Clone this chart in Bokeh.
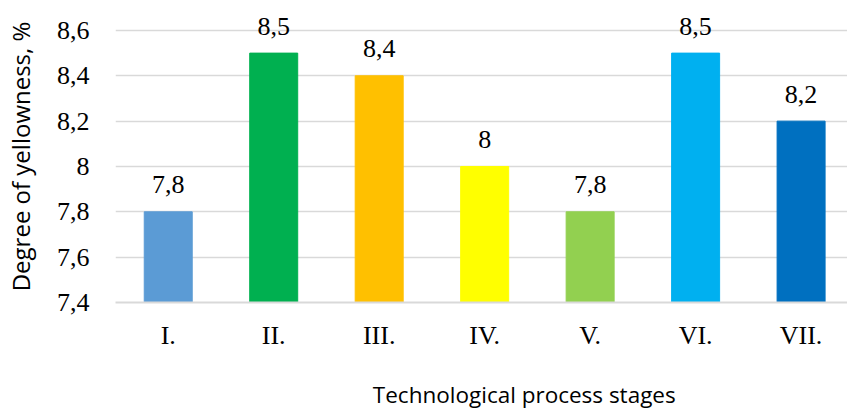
from bokeh.plotting import figure
from bokeh.layouts import column
from bokeh.models import ColumnDataSource, FixedTicker, CustomJSTickFormatter, Range1d
from bokeh.core.properties import value
from bokeh.embed import file_html
from bokeh.resources import INLINE

stages = ["I.", "II.", "III.", "IV.", "V.", "VI.", "VII."]
yellowness = [7.8, 8.5, 8.4, 8.0, 7.8, 8.5, 8.2]
bar_colors = ["#5B9BD5", "#00B050", "#FFC000", "#FFFF00", "#92D050", "#00B0F0", "#0070C0"]
y_ticks = [7.4, 7.6, 7.8, 8.0, 8.2, 8.4, 8.6]
x_title = "Technological process stages"
y_title = "Degree of yellowness, %"

def fmt(v):
    s = ("%.1f" % v).rstrip("0").rstrip(".")
    return s.replace(".", ",")

xs = list(range(len(stages)))
src = ColumnDataSource(dict(x=xs, top=yellowness, color=bar_colors,
                            label=[fmt(v) for v in yellowness]))

p = figure(width=847, height=375, output_backend="svg", toolbar_location=None,
           x_range=Range1d(-0.5, 6.44), y_range=Range1d(7.4, 8.688),
           min_border_left=115, min_border_right=0, min_border_top=10, min_border_bottom=73)
p.outline_line_color = None
p.background_fill_color = "white"

p.vbar(x="x", top="top", bottom=7.4, width=0.455, color="color", source=src)
p.text(x="x", y="top", text="label", source=src, text_align="center",
       text_baseline="alphabetic", y_offset=-27, text_font=value("Liberation Serif"),
       text_font_size="26px", text_color="#000000")

# axes
p.xaxis.ticker = FixedTicker(ticks=xs)
p.xaxis.major_label_overrides = {i: s for i, s in enumerate(stages)}
p.xaxis.major_tick_line_color = None
p.xaxis.minor_tick_line_color = None
p.xaxis.axis_line_color = "#D9D9D9"
p.xaxis.axis_line_width = 2
p.xaxis.major_label_text_font = "Liberation Serif"
p.xaxis.major_label_text_font_size = "26px"
p.xaxis.major_label_text_color = "#000000"
p.xaxis.major_label_standoff = 12

p.yaxis.ticker = FixedTicker(ticks=y_ticks)
p.yaxis.formatter = CustomJSTickFormatter(
    code="return String(parseFloat(tick.toFixed(1))).replace('.', ',');")
p.yaxis.major_tick_line_color = None
p.yaxis.minor_tick_line_color = None
p.yaxis.axis_line_color = None
p.yaxis.major_label_text_font = "Liberation Serif"
p.yaxis.major_label_text_font_size = "26px"
p.yaxis.major_label_text_color = "#000000"
p.yaxis.major_label_standoff = 20
p.yaxis.axis_label = y_title
p.yaxis.axis_label_standoff = 17
p.yaxis.axis_label_text_font = "Open Sans"
p.yaxis.axis_label_text_font_size = "24px"
p.yaxis.axis_label_text_font_style = "normal"
p.yaxis.axis_label_text_color = "#000000"

p.xgrid.grid_line_color = None
p.ygrid.grid_line_color = "#D9D9D9"
p.ygrid.grid_line_width = 1.5

# x-axis title strip below the chart
t = figure(width=847, height=35, output_backend="svg", toolbar_location=None,
           x_range=Range1d(0, 847), y_range=Range1d(0, 35),
           x_axis_location=None, y_axis_location=None,
           min_border_left=0, min_border_right=0, min_border_top=0, min_border_bottom=0)
t.min_border = 0
t.grid.visible = False
t.outline_line_color = None
t.text(x=[473], y=[16], text=[x_title], text_align="center", text_baseline="middle",
       text_font=value("Open Sans"), text_font_size="22.5px", text_color="#000000")

layout = column(p, t, spacing=0)
open("out.html", "w").write(file_html(layout, INLINE))
